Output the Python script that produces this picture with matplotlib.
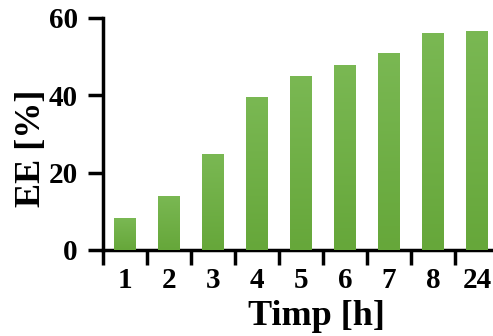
import numpy as np
import matplotlib
matplotlib.use("Agg")
import matplotlib.pyplot as plt
from matplotlib.colors import LinearSegmentedColormap

categories = ["1", "2", "3", "4", "5", "6", "7", "8", "24"]
ee_values = [8.2, 14.0, 24.8, 39.5, 44.9, 47.8, 51.0, 56.1, 56.7]
y_ticks = [0, 20, 40, 60]

plt.rcParams["font.family"] = ["Liberation Serif", "DejaVu Serif"]
plt.rcParams["font.weight"] = "bold"

fig = plt.figure(figsize=(4.93, 3.36), dpi=100)
ax = fig.add_axes([0.2089, 0.256, 0.803, 0.6905])

x = np.arange(len(categories))
bars = ax.bar(x, ee_values, width=0.5, color="#6fae45", edgecolor="none", zorder=2)

# vertical green gradient inside each bar
cmap = LinearSegmentedColormap.from_list("grn", ["#66a73a", "#7ab853"])
grad = np.linspace(0, 1, 256).reshape(-1, 1)
for b in bars:
    x0, y0 = b.get_x(), b.get_y()
    w, h = b.get_width(), b.get_height()
    im = ax.imshow(grad, cmap=cmap, origin="lower", aspect="auto",
                   extent=[x0, x0 + w, y0, y0 + h], zorder=3)
    im.set_clip_path(b)

ax.set_xlim(-0.5, len(categories) - 0.5)
ax.set_ylim(0, 60)

for side in ("top", "right"):
    ax.spines[side].set_visible(False)
for side in ("left", "bottom"):
    ax.spines[side].set_linewidth(2.5)

ax.set_yticks(y_ticks)
ax.set_yticklabels([str(v) for v in y_ticks], fontsize=21, fontweight="bold")
ax.tick_params(axis="y", length=11, width=2.5, pad=7)

ax.set_xticks(x)
ax.set_xticklabels(categories, fontsize=21, fontweight="bold")
ax.set_xticks(np.arange(len(categories)) - 0.5, minor=True)
ax.tick_params(axis="x", which="major", length=0, pad=12)
ax.tick_params(axis="x", which="minor", length=11, width=2.5)

ax.set_xlabel("Timp [h]", fontsize=26, fontweight="bold")
ax.xaxis.set_label_coords(0.538, -0.215)
ax.set_ylabel("EE [%]", fontsize=26, fontweight="bold")
ax.yaxis.set_label_coords(-0.14, 0.44)

fig.savefig("out.png", dpi=100)
